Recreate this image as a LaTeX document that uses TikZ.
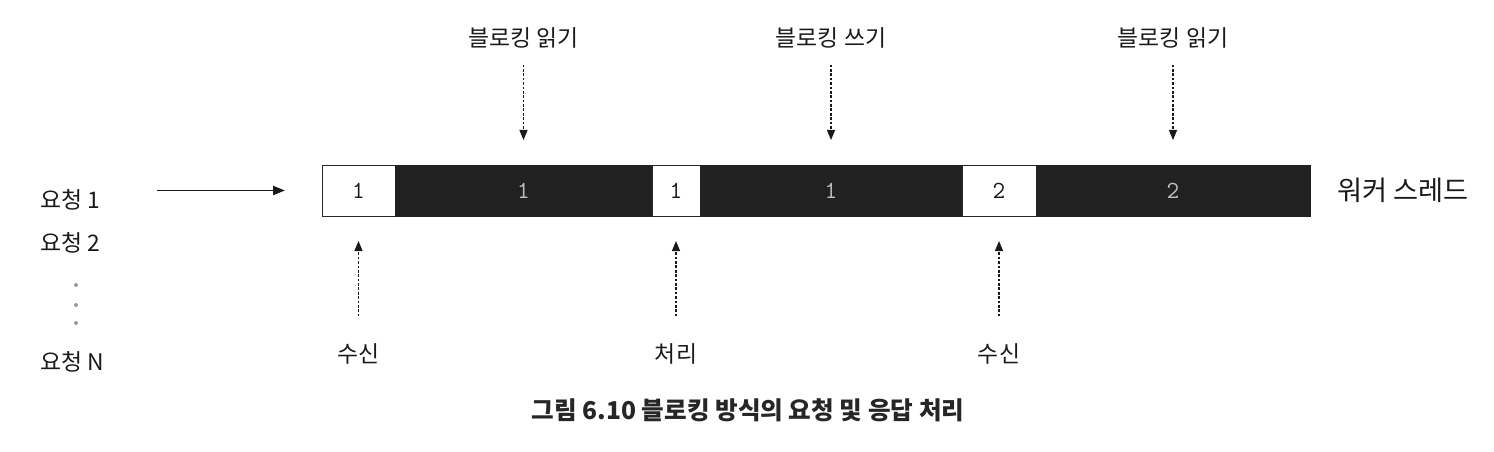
\documentclass[tikz,border=0pt]{standalone}
\usepackage{fontspec}
\setmainfont{Noto Sans CJK KR}
\usetikzlibrary{chains,positioning,arrows.meta}

\tikzset{
  seg/.style={minimum height=1.02cm,inner sep=0pt,outer sep=0pt,font=\ttfamily\fontsize{14}{14}\selectfont},
  segwhite/.style={seg,draw=black!85,fill=white,text=black!90},
  segblack/.style={seg,draw=black!87,fill=black!87,text=black!25},
  lbl/.style={font=\fontsize{13}{15}\selectfont,text=black!90},
  dotarrow/.style={-{Triangle[length=0.2cm,width=0.16cm]},dash pattern=on 1.5pt off 1pt,line width=0.7pt,draw=black!90},
}

\begin{document}
\begin{tikzpicture}
\useasboundingbox (0,0) rectangle (29.88,-9.04);
% worker thread time line
\begin{scope}[start chain=bar going right,node distance=0mm]
    \node [on chain=bar,segwhite,minimum width=1.46cm,anchor=west] (seg1) at (6.44,-3.81) {1};
    \node [on chain=bar,segblack,minimum width=5.14cm] (seg2) {1};
    \node [on chain=bar,segwhite,minimum width=0.96cm] (seg3) {1};
    \node [on chain=bar,segblack,minimum width=5.24cm] (seg4) {1};
    \node [on chain=bar,segwhite,minimum width=1.48cm] (seg5) {2};
    \node [on chain=bar,segblack,minimum width=5.48cm] (seg6) {2};
\end{scope}
\node [lbl,font=\fontsize{15.5}{17}\selectfont,right=0.42cm of seg6] (worker) {워커 스레드};
% requests
\node [lbl,anchor=west] (req1) at (0.68,-4.0) {요청 1};
\node [lbl,anchor=west] (req2) at (0.68,-4.86) {요청 2};
\node [lbl,anchor=west] (reqN) at (0.68,-7.24) {요청 N};
\foreach \y in {5.7,6.1,6.46}
    \fill [black!40] (1.52,-\y) circle (0.04);
\draw [-{Triangle[length=0.24cm,width=0.18cm]},line width=1pt,draw=black!90,shorten <=1.02cm,shorten >=0.74cm] (req1.east |- seg1.west) -- (seg1.west);
% blocking calls
\node [lbl] (read1) at (seg2 |- 0,-0.76) {블로킹 읽기};
\node [lbl] (write) at (seg4 |- 0,-0.76) {블로킹 쓰기};
\node [lbl] (read2) at (seg6 |- 0,-0.76) {블로킹 읽기};
\draw [dotarrow,shorten <=0.2cm,shorten >=0.5cm] (read1) -- (seg2);
\draw [dotarrow,shorten <=0.2cm,shorten >=0.5cm] (write) -- (seg4);
\draw [dotarrow,shorten <=0.2cm,shorten >=0.5cm] (read2) -- (seg6);
% receive / process
\node [lbl] (recv1) at (seg1 |- 0,-7.08) {수신};
\node [lbl] (proc) at (seg3 |- 0,-7.08) {처리};
\node [lbl] (recv2) at (seg5 |- 0,-7.08) {수신};
\draw [dotarrow,shorten <=0.42cm,shorten >=0.5cm] (recv1) -- (seg1);
\draw [dotarrow,shorten <=0.42cm,shorten >=0.5cm] (proc) -- (seg3);
\draw [dotarrow,shorten <=0.42cm,shorten >=0.5cm] (recv2) -- (seg5);
% caption
\node [font=\bfseries\fontsize{14}{16}\selectfont,text=black!85] (figcap) at (14.96,-8.2) {그림 6.10 블로킹 방식의 요청 및 응답 처리};
\end{tikzpicture}
\end{document}
